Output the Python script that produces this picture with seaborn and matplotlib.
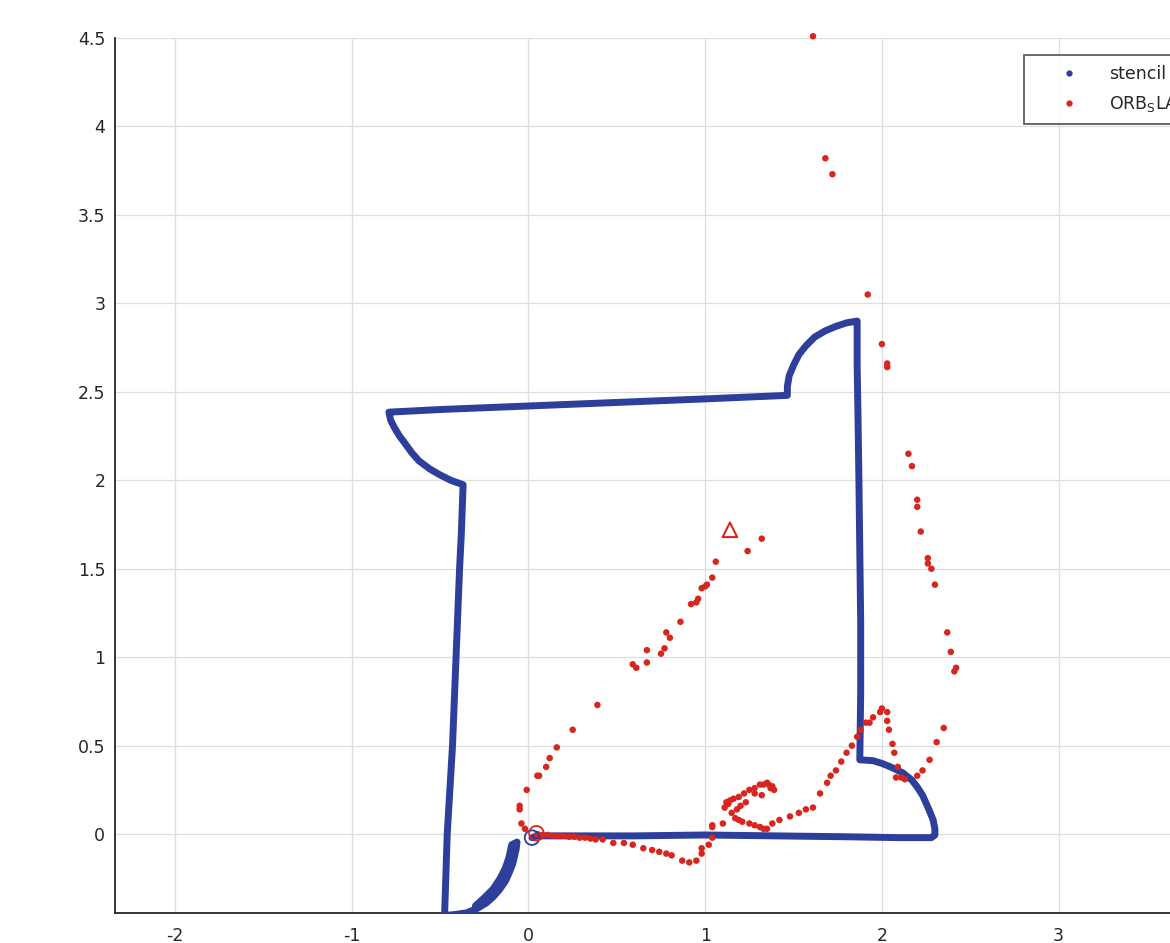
import matplotlib
matplotlib.use('Agg')
import matplotlib.pyplot as plt
from matplotlib.lines import Line2D
import seaborn as sns
import pandas as pd

# stencil trajectory
stencil_x = [0.02, 0.05, 0.3, 0.6, 1.0, 1.4, 1.8, 2.1, 2.28,
             2.30, 2.30, 2.29, 2.27, 2.25, 2.23, 2.20, 2.17, 2.12, 2.06, 2.0, 1.95, 1.875,
             1.88, 1.88, 1.875, 1.87, 1.865, 1.86, 1.86,
             1.80, 1.74, 1.68, 1.62, 1.57, 1.53, 1.50, 1.475, 1.465, 1.465,
             1.0, 0.5, 0.0, -0.5, -0.79,
             -0.78, -0.76, -0.73, -0.70, -0.66, -0.62, -0.56, -0.50, -0.44, -0.37,
             -0.38, -0.39, -0.41, -0.43, -0.46, -0.475,
             -0.42, -0.35, -0.29, -0.24, -0.20, -0.165, -0.13, -0.11, -0.09, -0.08, -0.07, -0.065,
             -0.095, -0.11, -0.13, -0.16, -0.20, -0.25, -0.30]
stencil_y = [-0.02, -0.01, -0.01, -0.01, -0.005, -0.01, -0.015, -0.02, -0.02,
             -0.005, 0.03, 0.08, 0.13, 0.175, 0.22, 0.266, 0.305, 0.345, 0.375, 0.40, 0.415, 0.42,
             0.8, 1.2, 1.6, 2.0, 2.35, 2.65, 2.90,
             2.89, 2.87, 2.845, 2.81, 2.76, 2.71, 2.65, 2.59, 2.53, 2.48,
             2.46, 2.44, 2.42, 2.40, 2.385,
             2.34, 2.30, 2.25, 2.21, 2.155, 2.11, 2.065, 2.03, 2.0, 1.975,
             1.7, 1.5, 1.0, 0.5, 0.0, -0.46,
             -0.455, -0.445, -0.42, -0.39, -0.355, -0.315, -0.265, -0.22, -0.17, -0.13, -0.085, -0.045,
             -0.06, -0.13, -0.19, -0.25, -0.31, -0.36, -0.405]

# ORB_SLAM keyframe positions
orb_x = [0.05, 0.08, 0.11, 0.14, 0.17, 0.20, 0.23, 0.26, 0.29, 0.32, 0.35, 0.38,
         0.42, 0.48, 0.54, 0.59, 0.65, 0.70, 0.74, 0.78, 0.81, 0.87, 0.91, 0.95, 0.98, 0.98,
         1.02, 1.04, 1.04, 1.10,
         1.04, 1.11, 1.12, 1.13, 1.14, 1.16, 1.19, 1.22, 1.25, 1.28, 1.31, 1.33, 1.35, 1.36,
         1.38, 1.39, 1.37, 1.32, 1.28, 1.23, 1.20, 1.18, 1.15, 1.17, 1.19, 1.21, 1.25, 1.28,
         1.31, 1.33, 1.35, 1.38, 1.42, 1.48, 1.53, 1.57,
         1.61, 1.65, 1.69, 1.71, 1.74, 1.77, 1.80, 1.83, 1.86, 1.88, 1.91, 1.93, 1.95, 1.99,
         2.00, 2.03, 2.03, 2.04, 2.06, 2.07, 2.09, 2.11, 2.13, 2.08,
         2.20, 2.23, 2.27, 2.31, 2.35, 2.41, 2.42, 2.39, 2.37, 2.30, 2.28, 2.26, 2.26, 2.22,
         2.20, 2.20, 2.17, 2.15,
         2.03, 2.03, 2.00, 1.92, 1.72, 1.68, 1.61,
         -0.04, -0.02, -0.05, -0.05, -0.01, 0.05, 0.06, 0.10, 0.12, 0.16, 0.25, 0.39,
         0.59, 0.61, 0.67, 0.67, 0.75, 0.77, 0.78, 0.80, 0.86, 0.92, 0.95, 0.96, 0.98, 1.00,
         1.01, 1.04, 1.06, 1.24, 1.32]
orb_y = [0.0, -0.005, -0.005, -0.01, -0.01, -0.01, -0.015, -0.015, -0.02, -0.02, -0.025, -0.03,
         -0.03, -0.05, -0.05, -0.06, -0.08, -0.09, -0.10, -0.11, -0.12, -0.15, -0.16, -0.15,
         -0.11, -0.08, -0.06, -0.02, 0.04, 0.06,
         0.05, 0.15, 0.18, 0.17, 0.19, 0.20, 0.21, 0.23, 0.25, 0.26, 0.28, 0.28, 0.29, 0.28,
         0.27, 0.25, 0.26, 0.22, 0.23, 0.18, 0.16, 0.14, 0.12, 0.09, 0.08, 0.07, 0.06, 0.05,
         0.04, 0.03, 0.03, 0.06, 0.08, 0.10, 0.12, 0.14,
         0.15, 0.23, 0.29, 0.33, 0.36, 0.41, 0.46, 0.50, 0.55, 0.59, 0.63, 0.63, 0.66, 0.69,
         0.71, 0.69, 0.64, 0.59, 0.51, 0.46, 0.38, 0.32, 0.31, 0.32,
         0.33, 0.36, 0.42, 0.52, 0.60, 0.92, 0.94, 1.03, 1.14, 1.41, 1.50, 1.53, 1.56, 1.71,
         1.85, 1.89, 2.08, 2.15,
         2.64, 2.66, 2.77, 3.05, 3.73, 3.82, 4.51,
         0.06, 0.03, 0.14, 0.16, 0.25, 0.33, 0.33, 0.38, 0.43, 0.49, 0.59, 0.73,
         0.96, 0.94, 0.97, 1.04, 1.02, 1.05, 1.14, 1.11, 1.20, 1.30, 1.31, 1.33, 1.39, 1.40,
         1.41, 1.45, 1.54, 1.60, 1.67]

stencil_start = (0.02, -0.02)
orb_start = (0.045, 0.005)
orb_end = (1.14, 1.72)

legend_labels = ['stencil', r'ORB$_\mathrm{S}$LAM']
xticks = [-2, -1, 0, 1, 2, 3]
yticks = [0, 0.5, 1, 1.5, 2, 2.5, 3, 3.5, 4, 4.5]

blue = '#2d3e9b'
red = '#d8261f'

sns.set_style('whitegrid')
plt.rcParams['font.family'] = ['DejaVu Sans']
plt.rcParams['axes.unicode_minus'] = False

fig = plt.figure(figsize=(11.7, 9.43), dpi=100)
ax = fig.add_axes([0.0983, 0.0318, 0.9424, 0.9279])

df_stencil = pd.DataFrame({'x': stencil_x, 'y': stencil_y})
df_orb = pd.DataFrame({'x': orb_x, 'y': orb_y})

sns.lineplot(data=df_stencil, x='x', y='y', sort=False, estimator=None, color=blue,
             linewidth=5, ax=ax, zorder=3)
sns.scatterplot(data=df_orb, x='x', y='y', color=red, s=22, edgecolor='none', ax=ax,
                zorder=4, legend=False, clip_on=False)

ax.scatter([stencil_start[0]], [stencil_start[1]], s=110, facecolors='none',
           edgecolors=blue, linewidths=1.3, zorder=5)
ax.scatter([orb_start[0]], [orb_start[1]], s=110, facecolors='none',
           edgecolors=red, linewidths=1.3, zorder=5)
ax.scatter([orb_end[0]], [orb_end[1]], s=110, marker='^', facecolors='none',
           edgecolors=red, linewidths=1.5, zorder=5)

ax.set_xlim(-2.34, 3.9)
ax.set_ylim(-0.446, 4.5)
ax.set_xticks(xticks)
ax.set_yticks(yticks)
ax.set_xticklabels([f'{t:g}' for t in xticks])
ax.set_yticklabels([f'{t:g}' for t in yticks])
ax.set_xlabel('')
ax.set_ylabel('')

ax.grid(True, color='#dedede', linewidth=0.9)
for side in ['top', 'right']:
    ax.spines[side].set_visible(False)
for side in ['left', 'bottom']:
    ax.spines[side].set_color('#262626')
    ax.spines[side].set_linewidth(1.3)
ax.tick_params(axis='both', direction='in', length=7, width=1.3, color='#262626',
               labelcolor='#262626', labelsize=12.5)
ax.tick_params(axis='x', pad=10)
ax.tick_params(axis='y', pad=7)

handles = [Line2D([], [], marker='.', linestyle='none', color=blue, markersize=7),
           Line2D([], [], marker='.', linestyle='none', color=red, markersize=7)]
leg = fig.legend(handles, legend_labels, loc='upper left',
                 bbox_to_anchor=(1024 / 1170, 1 - 55 / 943), borderaxespad=0,
                 fontsize=12.5, frameon=True, fancybox=False, borderpad=0.6,
                 labelspacing=0.6, handlelength=4, handletextpad=0.3)
leg.get_frame().set_edgecolor('#262626')
leg.get_frame().set_linewidth(1.2)

fig.savefig('out.png', dpi=100)
